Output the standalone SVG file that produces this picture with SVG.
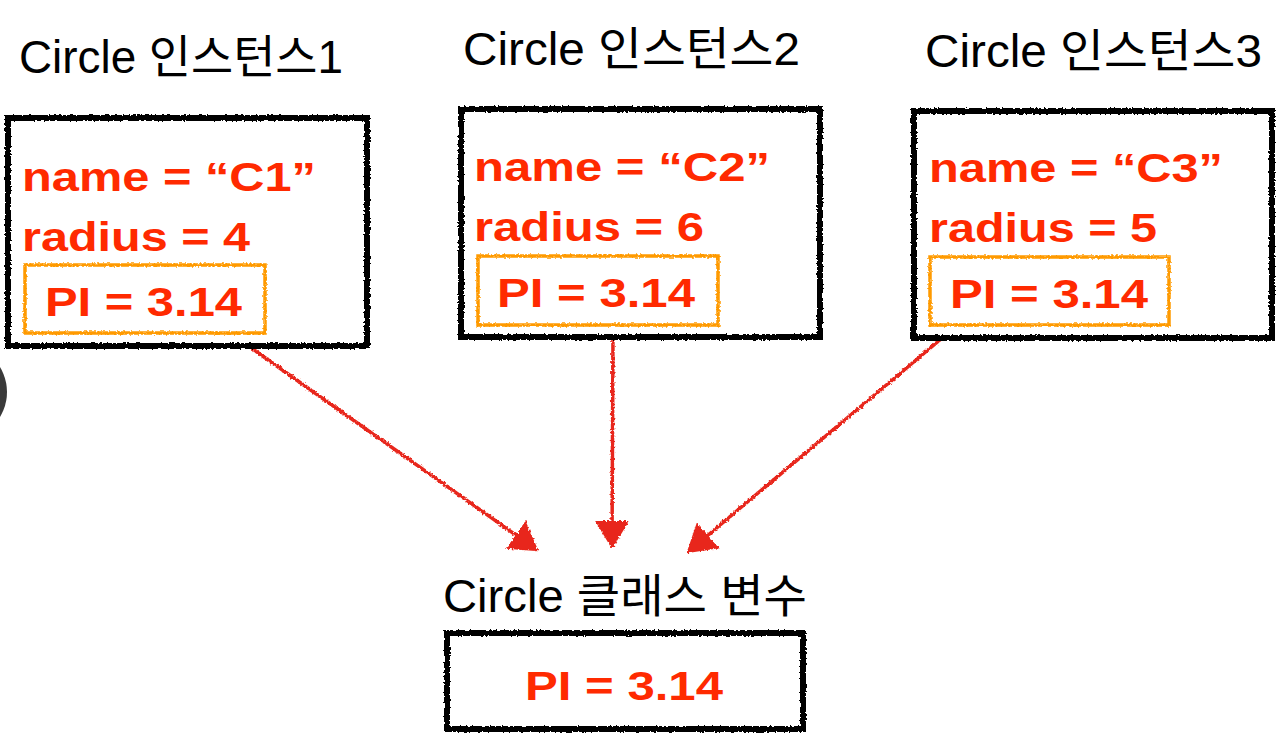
<svg xmlns="http://www.w3.org/2000/svg" width="1288" height="742" viewBox="0 0 1288 742">
  <style>
    .title { font-family: "Liberation Sans", "Noto Sans CJK KR", sans-serif; font-size: 46px; fill: #000; }
    .val { font-family: "Liberation Sans", "Noto Sans CJK KR", sans-serif; font-size: 41px; font-weight: bold; fill: #ff2a00; }
    .box { fill: #fff; stroke: #000; stroke-width: 6; filter: url(#rough); }
    .pi { fill: none; stroke: #ff9a00; stroke-width: 3.5; filter: url(#rough); }
    .conn { stroke: #e8281c; stroke-width: 3.5; fill: none; marker-end: url(#arrow); filter: url(#rough); }
  </style>
  <defs>
    <filter id="rough" filterUnits="userSpaceOnUse" x="0" y="0" width="1288" height="742">
      <feTurbulence type="fractalNoise" baseFrequency="0.5" numOctaves="2" seed="3" result="n"/>
      <feDisplacementMap in="SourceGraphic" in2="n" scale="3.5" xChannelSelector="R" yChannelSelector="G"/>
    </filter>
    <marker id="arrow" viewBox="0 0 28 34" refX="26" refY="17" markerWidth="28" markerHeight="34" markerUnits="userSpaceOnUse" orient="auto">
      <path d="M0,0 L28,17 L0,34 z" fill="#e8281c"/>
    </marker>
  </defs>
  <rect width="1288" height="742" fill="#fff"/>
  <circle cx="-41" cy="392" r="48" fill="#3a3a3a"/>

  <g id="connectors">
    <line class="conn" x1="240" y1="340" x2="537" y2="550"/>
    <line class="conn" x1="613" y1="332" x2="612" y2="547"/>
    <line class="conn" x1="960" y1="323" x2="688" y2="552"/>
  </g>

  <g id="instance1">
    <text class="title" x="19" y="73" textLength="324" lengthAdjust="spacingAndGlyphs">Circle 인스턴스1</text>
    <rect class="box" x="8" y="118" width="359" height="228"/>
    <text class="val" x="22" y="191" textLength="294" lengthAdjust="spacingAndGlyphs">name = “C1”</text>
    <text class="val" x="22" y="251" textLength="228" lengthAdjust="spacingAndGlyphs">radius = 4</text>
    <rect class="pi" x="25" y="265" width="240" height="68"/>
    <text class="val" x="45" y="316" textLength="197" lengthAdjust="spacingAndGlyphs">PI = 3.14</text>
  </g>

  <g id="instance2">
    <text class="title" x="463" y="65" textLength="337" lengthAdjust="spacingAndGlyphs">Circle 인스턴스2</text>
    <rect class="box" x="461" y="109" width="359" height="228"/>
    <text class="val" x="474" y="181" textLength="296" lengthAdjust="spacingAndGlyphs">name = “C2”</text>
    <text class="val" x="474" y="241" textLength="230" lengthAdjust="spacingAndGlyphs">radius = 6</text>
    <rect class="pi" x="478" y="256" width="240" height="69"/>
    <text class="val" x="497" y="307" textLength="198" lengthAdjust="spacingAndGlyphs">PI = 3.14</text>
  </g>

  <g id="instance3">
    <text class="title" x="925" y="67" textLength="337" lengthAdjust="spacingAndGlyphs">Circle 인스턴스3</text>
    <rect class="box" x="914" y="111" width="358" height="227"/>
    <text class="val" x="929" y="182" textLength="294" lengthAdjust="spacingAndGlyphs">name = “C3”</text>
    <text class="val" x="929" y="242" textLength="228" lengthAdjust="spacingAndGlyphs">radius = 5</text>
    <rect class="pi" x="930" y="257" width="239" height="68"/>
    <text class="val" x="950" y="308" textLength="198" lengthAdjust="spacingAndGlyphs">PI = 3.14</text>
  </g>

  <g id="classvar">
    <text class="title" x="443" y="612" textLength="364" lengthAdjust="spacingAndGlyphs">Circle 클래스 변수</text>
    <rect class="box" x="447" y="633" width="356" height="96"/>
    <text class="val" x="525" y="700" textLength="198" lengthAdjust="spacingAndGlyphs">PI = 3.14</text>
  </g>
</svg>
